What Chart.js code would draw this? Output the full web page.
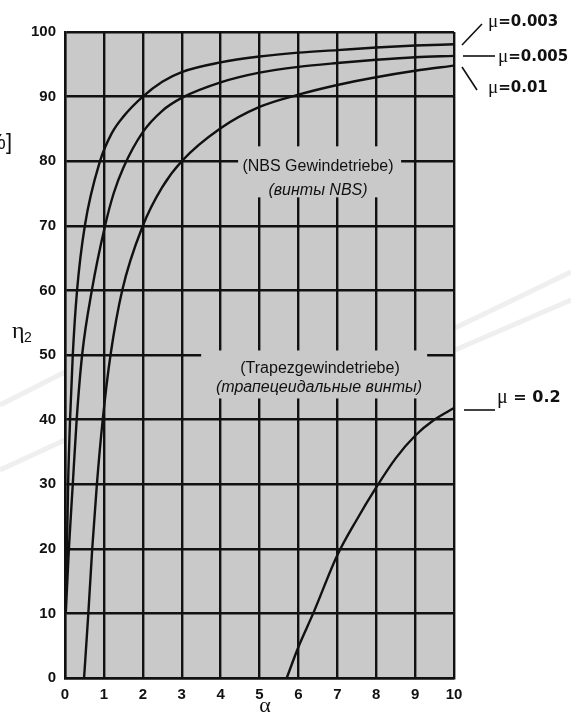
<!DOCTYPE html>
<html>
<head>
<meta charset="utf-8">
<script src="https://cdn.jsdelivr.net/npm/chart.js@4"></script>
<style>
  html, body { margin: 0; padding: 0; background: #fff; }
  #wrap { width: 571px; height: 713px; position: relative; }
</style>
</head>
<body>
<div id="wrap"><canvas id="eff_chart" width="571" height="713"></canvas></div>
<script>
// values (alpha in degrees, eta in %)
const mu003 = [[0, 12], [0.05, 20], [0.08, 30], [0.13, 40], [0.2, 50], [0.31, 60], [0.51, 70], [0.9, 80],
  [1.2, 84.3], [1.5, 86.9], [2, 90], [2.5, 92.3], [3, 93.8], [4, 95.3], [5, 96.2], [6, 96.8], [7, 97.2], [8, 97.6], [9, 97.9], [10, 98.1]];
const mu005 = [[0.02, 10], [0.1, 20], [0.2, 30], [0.3, 40], [0.44, 50], [0.69, 60], [1.03, 70], [1.25, 75], [1.5, 79],
  [2, 84.5], [2.5, 87.8], [3, 89.8], [4, 92.2], [5, 93.7], [6, 94.6], [7, 95.2], [8, 95.7], [9, 96.1], [10, 96.3]];
const mu01 = [[0.49, 0], [0.6, 10], [0.7, 20], [0.82, 30], [0.97, 40], [1.17, 50], [1.47, 60], [2, 70], [2.5, 76], [3, 80],
  [4, 85.1], [5, 88.4], [6, 90.3], [7, 91.8], [8, 93], [9, 94], [10, 94.8]];
const mu02 = [[5.7, 0], [6, 4.8], [6.38, 10], [7, 19], [7.5, 24.5], [8, 29.5], [8.5, 34], [9, 37.5], [9.5, 40], [10, 41.8]];

const xTicks = [0, 1, 2, 3, 4, 5, 6, 7, 8, 9, 10];
const yTicks = [0, 10, 20, 30, 40, 50, 60, 70, 80, 90, 100];

const toPts = (arr) => arr.map((p) => ({ x: p[0], y: p[1] }));

const sans = "'Liberation Sans', Arial, sans-serif";
const wide = "'DejaVu Sans', sans-serif";
const serif = "'Liberation Serif', 'DejaVu Serif', serif";

// grey plot background + faint decorative swooshes
const background = {
  id: "background",
  beforeDraw(chart) {
    const { ctx, chartArea: a } = chart;
    ctx.save();
    ctx.strokeStyle = "rgba(180,180,180,0.22)";
    ctx.lineWidth = 5;
    [[0, 405, 65, 372], [0, 470, 65, 440], [455, 350, 571, 300], [455, 328, 571, 272]].forEach((l) => {
      ctx.beginPath();
      ctx.moveTo(l[0], l[1]);
      ctx.lineTo(l[2], l[3]);
      ctx.stroke();
    });
    ctx.fillStyle = "#c9c9c9";
    ctx.fillRect(a.left, a.top, a.right - a.left, a.bottom - a.top);
    ctx.restore();
  },
};

// text boxes inside the plot (they hide the grid behind them)
const notes = {
  id: "notes",
  beforeDatasetsDraw(chart) {
    const { ctx } = chart;
    const x = chart.scales.x, y = chart.scales.y;
    ctx.save();
    ctx.fillStyle = "#c9c9c9";
    ctx.fillRect(x.getPixelForValue(4.45), y.getPixelForValue(82.3), 163, 51);
    ctx.fillRect(x.getPixelForValue(3.5), y.getPixelForValue(50.7), 226, 48);
    ctx.fillStyle = "#111";
    ctx.textAlign = "center";
    ctx.textBaseline = "middle";
    ctx.font = "16px " + sans;
    ctx.fillText("(NBS Gewindetriebe)", 318, 167);
    ctx.fillText("(Trapezgewindetriebe)", 320, 369);
    ctx.font = "italic 16px " + sans;
    ctx.fillText("(винты NBS)", 318, 191);
    ctx.fillText("(трапецеидальные винты)", 319, 388);
    ctx.restore();
  },
};

// curve names, leader lines and axis titles
const labels = {
  id: "labels",
  afterDraw(chart) {
    const { ctx } = chart;
    ctx.save();
    ctx.strokeStyle = "#111";
    ctx.lineWidth = 1.6;
    [[462, 45, 482, 24], [463, 56, 495, 56], [462, 67, 477, 90], [464, 410, 495, 410]].forEach((l) => {
      ctx.beginPath();
      ctx.moveTo(l[0], l[1]);
      ctx.lineTo(l[2], l[3]);
      ctx.stroke();
    });
    ctx.fillStyle = "#111";
    ctx.textBaseline = "middle";
    ctx.textAlign = "left";
    const muLabel = (txt, x0, y0, size) => {
      ctx.font = (size + 4) + "px " + serif;
      ctx.fillText("μ", x0, y0);
      const w = ctx.measureText("μ").width;
      ctx.font = "bold " + size + "px " + wide;
      ctx.fillText(txt, x0 + w, y0);
    };
    muLabel("=0.003", 488, 22, 15);
    muLabel("=0.005", 498, 57, 15);
    muLabel("=0.01", 488, 88, 15);
    muLabel(" = 0.2", 497, 398, 16);

    ctx.font = "24px " + serif;
    ctx.fillText("η", 12, 332);
    ctx.font = "14px " + sans;
    ctx.fillText("2", 24, 338);
    ctx.font = "22px " + sans;
    ctx.textAlign = "right";
    ctx.fillText("[%]", 12, 143);
    ctx.textAlign = "center";
    ctx.font = "22px " + serif;
    ctx.fillText("α", 265, 706);
    ctx.restore();
  },
};

const line = (data) => ({
  data: toPts(data),
  borderColor: "#111",
  borderWidth: 2.4,
  pointRadius: 0,
  fill: false,
  cubicInterpolationMode: "monotone",
});

new Chart(document.getElementById("eff_chart").getContext("2d"), {
  type: "line",
  data: {
    datasets: [line(mu003), line(mu005), line(mu01), line(mu02)],
  },
  plugins: [background, notes, labels],
  options: {
    responsive: false,
    animation: false,
    layout: { padding: { left: 0, top: 32, right: 117, bottom: 0 } },
    plugins: { legend: { display: false }, tooltip: { enabled: false } },
    scales: {
      x: {
        type: "linear",
        min: 0,
        max: 10,
        afterBuildTicks: (s) => { s.ticks = xTicks.map((v) => ({ value: v })); },
        afterFit: (s) => { s.height = 35; },
        grid: { color: "#111", lineWidth: 2.4, drawTicks: false },
        border: { color: "#111", width: 2.4 },
        ticks: { padding: 8, color: "#111", font: { family: sans, size: 15, weight: "bold" } },
      },
      y: {
        min: 0,
        max: 100,
        afterBuildTicks: (s) => { s.ticks = yTicks.map((v) => ({ value: v })); },
        afterFit: (s) => { s.width = 65; },
        grid: { color: "#111", lineWidth: 2.4, drawTicks: false },
        border: { color: "#111", width: 2.4 },
        ticks: { padding: 9, color: "#111", font: { family: sans, size: 15, weight: "bold" } },
      },
    },
  },
});
</script>
</body>
</html>
